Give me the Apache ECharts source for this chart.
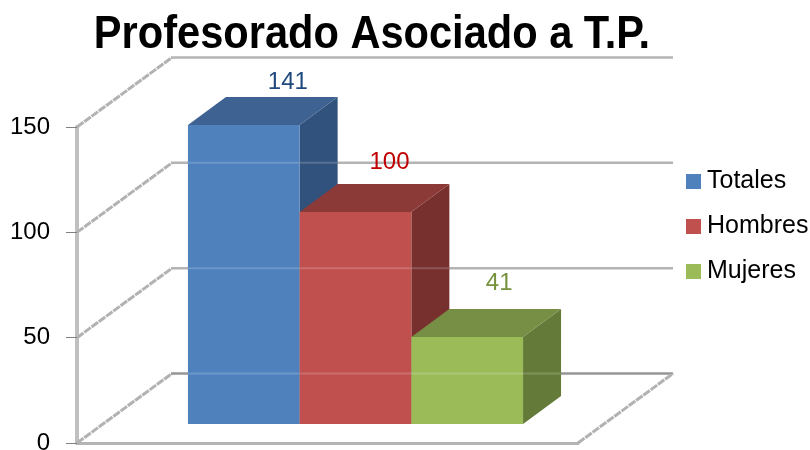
<!DOCTYPE html>
<html>
<head>
<meta charset="utf-8">
<style>html,body{margin:0;padding:0;background:#fff}#c{width:810px;height:450px}</style>
<script src="https://cdn.jsdelivr.net/npm/echarts@6/dist/echarts.min.js"></script>
</head>
<body>
<div id="c"></div>
<script>
const titleText = 'Profesorado Asociado a T.P.';
const categories = ['Profesorado'];
const seriesNames = ['Totales', 'Hombres', 'Mujeres'];
const totales = [141];
const hombres = [100];
const mujeres = [41];
const yTicks = [0, 50, 100, 150];

const seriesValues = [totales, hombres, mujeres];
const FONT = '"Liberation Sans", Arial, sans-serif';
const BAR_W = 111.7, BAR_DX = 38, BAR_DY = 28, WALL_DX = 95, WALL_DY = 69.5;
const G0 = {left: 77, top: 127, width: 501, height: 316, outerBoundsMode: 'none'};
const G1 = {left: 105, top: 106, width: 501, height: 318, outerBoundsMode: 'none'};
const front = ['#4F81BD', '#C0504D', '#9BBB59'];
const topFace = ['#3E6291', '#8C3A38', '#768F45'];
const side = ['#31527C', '#77302E', '#647A38'];
const labelColor = ['#1F497D', '#C00000', '#76923C'];
const labelOffset = [[44, -26], [34, -33], [32, -37]];

function wallItem(params, api) {
  const tick = api.value(0);
  const p = api.coord([0, tick]);
  const cs = params.coordSys;
  const x0 = cs.x, x1 = cs.x + cs.width, y = p[1];
  const bx = x0 + WALL_DX, by = y - WALL_DY;
  const children = [
    {type: 'line', shape: {x1: x0, y1: y, x2: bx, y2: by},
     style: {stroke: '#B2B2B2', lineWidth: 3, lineDash: [8, 1]}},
    {type: 'line', shape: {x1: bx - 1, y1: by, x2: x1 + WALL_DX, y2: by},
     style: {stroke: tick === 0 ? '#969696' : '#B4B4B4', lineWidth: 2.5}}
  ];
  if (tick === 0) {
    children.push({type: 'line', shape: {x1: x1, y1: y, x2: x1 + WALL_DX, y2: by},
      style: {stroke: '#B2B2B2', lineWidth: 3, lineDash: [8, 1]}});
  }
  return {type: 'group', children};
}

function depthItem(i) {
  return function (params, api) {
    const c = api.coord([0, api.value(1)]);
    const b = api.coord([0, 0]);
    const x0 = c[0] + (i - 1.5) * BAR_W, x1 = x0 + BAR_W, yt = c[1], yb = b[1];
    return {type: 'group', children: [
      {type: 'polygon', shape: {points: [[x1, yt], [x1 + BAR_DX, yt - BAR_DY], [x1 + BAR_DX, yb - BAR_DY], [x1, yb]]},
       style: {fill: side[i]}},
      {type: 'polygon', shape: {points: [[x0, yt], [x0 + BAR_DX, yt - BAR_DY], [x1 + BAR_DX, yt - BAR_DY], [x1, yt]]},
       style: {fill: topFace[i]}}
    ]};
  };
}

// the back-wall gridlines show faintly through the translucent bars
function sheenItem(params, api) {
  const y = api.coord([0, api.value(0)])[1] - WALL_DY;
  const centre = G1.left + G1.width / 2;
  const scale = G1.height / 150;
  const base = G1.top + G1.height;
  let right = null;
  seriesValues.forEach((v, i) => {
    if (base - v[0] * scale - BAR_DY < y) {
      right = centre + (i - 0.5) * BAR_W + BAR_DX;
    }
  });
  if (right === null) return null;
  return {type: 'line', shape: {x1: centre - 1.5 * BAR_W, y1: y, x2: right, y2: y},
          style: {stroke: 'rgba(255,255,255,0.18)', lineWidth: 2}};
}

const barSeries = seriesNames.map((name, i) => ({
  type: 'bar', name, xAxisIndex: 1, yAxisIndex: 1,
  data: seriesValues[i], barWidth: BAR_W, barGap: 0, z: 3 + i * 2,
  itemStyle: {color: front[i]},
  label: {show: true, position: 'top', offset: labelOffset[i], color: labelColor[i],
          fontFamily: FONT, fontSize: 24}
}));
const depthSeries = seriesNames.map((name, i) => ({
  type: 'custom', xAxisIndex: 1, yAxisIndex: 1, z: 2 + i * 2, silent: true, clip: false,
  renderItem: depthItem(i), data: [[0, seriesValues[i][0]]], encode: {x: 0, y: 1}
}));

const chart = echarts.init(document.getElementById('c'), null, {renderer: 'canvas'});
chart.setOption({
  animation: false,
  backgroundColor: '#fff',
  tooltip: {show: false},
  graphic: [{
    type: 'text', x: 372, y: 35, scaleX: 0.885, z: 20,
    style: {text: titleText, fill: '#000', font: 'bold 47px ' + FONT, textAlign: 'center', textVerticalAlign: 'middle'}
  }],
  legend: {
    data: seriesNames.map(name => ({name, icon: 'rect'})), orient: 'vertical', left: 686, top: 169, padding: 0,
    itemWidth: 15, itemHeight: 15, itemGap: 20,
    selectedMode: false,
    textStyle: {fontFamily: FONT, fontSize: 25, color: '#000', lineHeight: 25, padding: [0, 0, 0, 1]}
  },
  grid: [G0, G1],
  xAxis: [
    {type: 'category', gridIndex: 0, data: categories,
     axisLine: {show: true, lineStyle: {color: '#B4B4B4', width: 3}}, axisTick: {show: false}, axisLabel: {show: false}},
    {type: 'category', gridIndex: 1, data: categories, show: false}
  ],
  yAxis: [
    {type: 'value', gridIndex: 0, min: 0, max: 150, interval: 50, splitLine: {show: false},
     axisLine: {show: true, lineStyle: {color: '#C0C0C0', width: 4}},
     axisTick: {show: true, length: 11, lineStyle: {color: '#808080', width: 1}},
     axisLabel: {margin: 27, color: '#000', fontFamily: FONT, fontSize: 24, padding: [2, 0, 0, 0]}},
    {type: 'value', gridIndex: 1, min: 0, max: 150, interval: 50, show: false}
  ],
  series: barSeries.concat(depthSeries, [{
    type: 'custom', xAxisIndex: 0, yAxisIndex: 0, z: 1, silent: true, clip: false,
    renderItem: wallItem, data: yTicks.map(t => [t]), encode: {y: 0}
  }, {
    type: 'custom', xAxisIndex: 0, yAxisIndex: 0, z: 12, silent: true, clip: false,
    renderItem: sheenItem, data: yTicks.map(t => [t]), encode: {y: 0}
  }])
});
</script>
</body>
</html>
